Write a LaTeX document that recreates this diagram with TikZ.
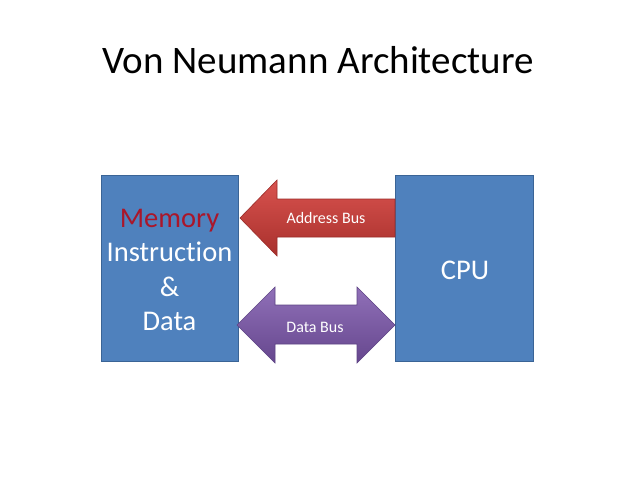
\documentclass[tikz,border=0pt]{standalone}
\usepackage{fontspec}
\setmainfont{Carlito}[Ligatures={NoCommon}]
\definecolor{boxblue}{HTML}{4F81BD}
\definecolor{boxedge}{HTML}{3A6496}
\definecolor{memred}{RGB}{170,22,42}
\definecolor{redtop}{HTML}{D9534F}
\definecolor{redbot}{HTML}{A8302C}
\definecolor{rededge}{HTML}{9A2C29}
\definecolor{purtop}{HTML}{9070B8}
\definecolor{purbot}{HTML}{66478E}
\definecolor{puredge}{HTML}{5E4485}
\begin{document}
\begin{tikzpicture}[x=1pt,y=-1pt,
  unitbox/.style={fill=boxblue,draw=boxedge,line width=0.8pt},
  buslabel/.style={text=white,font=\fontsize{16}{19}\selectfont,anchor=base,inner sep=0pt},
  boxtext/.style={text=white,font=\fontsize{28.5}{34.5}\selectfont,inner sep=0pt}]
\useasboundingbox (0,0) rectangle (638,479);
\fill[white] (0,0) rectangle (638,479);
% title
\node[anchor=base,inner sep=0pt,font=\fontsize{39}{46}\selectfont] (title) at (318,73) {Von Neumann Architecture};
% boxes
\draw[unitbox] (101,175) rectangle (238,361);
\draw[unitbox] (395,175) rectangle (533,361);
% address bus arrow
\draw[top color=redtop,bottom color=redbot,draw=rededge,line width=0.6pt,line join=miter]
  (240,218) -- (277,180) -- (277,199) -- (395,199) -- (395,237) -- (277,237) -- (277,256) -- cycle;
% data bus arrow
\draw[top color=purtop,bottom color=purbot,draw=puredge,line width=0.6pt,line join=miter]
  (237,325) -- (275,287) -- (275,305) -- (357,305) -- (357,287) -- (395,325) -- (357,363) -- (357,344) -- (275,344) -- (275,363) -- cycle;
% labels
\node[buslabel] (addr) at (326,223) {Address Bus};
\node[buslabel] (data) at (315,332) {Data Bus};
\node[boxtext,align=center] (mem) at (169.5,270) {\textcolor{memred}{Memory}\\Instruction\\\&\\Data};
\node[boxtext,anchor=base] (cpu) at (465,279) {CPU};
\end{tikzpicture}
\end{document}
